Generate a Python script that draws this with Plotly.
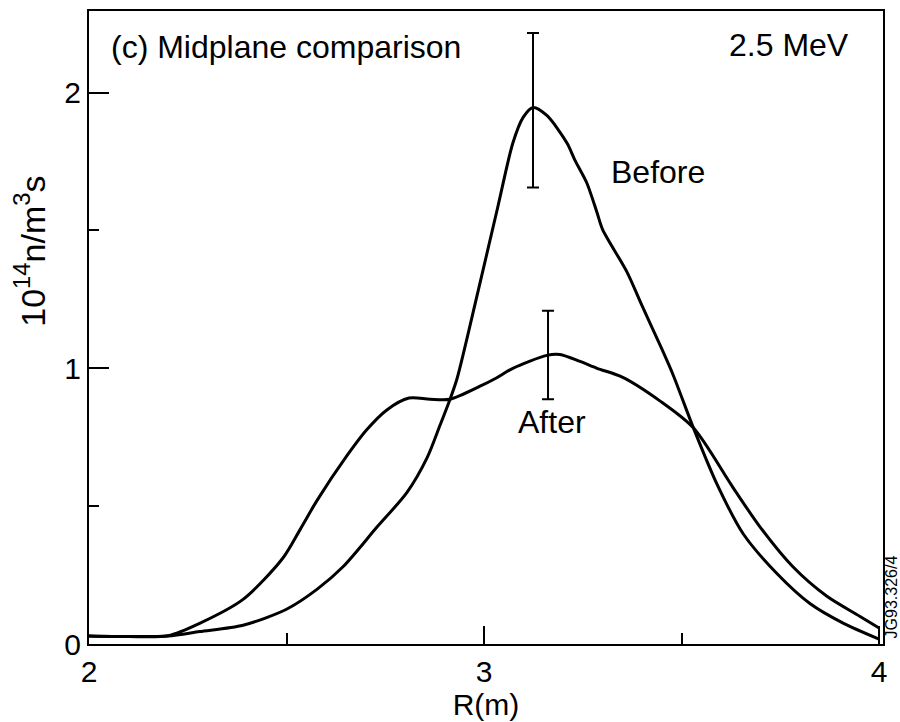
import plotly.graph_objects as go

# Neutron emissivity profiles along the midplane, 2.5 MeV
r_before = [2.00, 2.10, 2.20, 2.28, 2.39, 2.50, 2.577, 2.643, 2.729, 2.805, 2.856, 2.889,
            2.914, 2.932, 2.985, 3.035, 3.073, 3.099, 3.124, 3.159, 3.21, 3.23, 3.26,
            3.286, 3.30, 3.362, 3.40, 3.446, 3.479, 3.53, 3.59, 3.656, 3.742, 3.825,
            3.909, 4.00]
e_before = [0.029, 0.027, 0.029, 0.045, 0.068, 0.126, 0.198, 0.28, 0.424, 0.55, 0.676, 0.795,
            0.888, 0.964, 1.28, 1.586, 1.817, 1.91, 1.946, 1.917, 1.817, 1.755, 1.673,
            1.565, 1.504, 1.349, 1.227, 1.083, 0.975, 0.784, 0.579, 0.40, 0.255, 0.147,
            0.076, 0.018]

r_after = [2.00, 2.10, 2.20, 2.28, 2.39, 2.49, 2.534, 2.577, 2.653, 2.703, 2.754, 2.81,
           2.863, 2.914, 2.99, 3.03, 3.073, 3.159, 3.192, 3.243, 3.286, 3.35, 3.446,
           3.53, 3.63, 3.699, 3.782, 3.868, 3.952, 4.00]
e_after = [0.029, 0.027, 0.030, 0.075, 0.162, 0.31, 0.414, 0.52, 0.683, 0.777, 0.849, 0.892,
           0.888, 0.888, 0.935, 0.964, 1.0, 1.047, 1.05, 1.025, 1.0, 0.968, 0.881,
           0.784, 0.568, 0.424, 0.28, 0.173, 0.10, 0.058]

# Error bars: position, value, upper and lower extent
err_r = [3.124, 3.162]
err_val = [1.946, 1.047]
err_plus = [0.27, 0.162]
err_minus = [0.29, 0.159]

x_ticks = [2, 3, 4]
y_ticks = [0, 1, 2]

FONT = "Liberation Sans, Arial, Helvetica, sans-serif"

fig = go.Figure()
fig.add_trace(go.Scatter(x=r_before, y=e_before, mode="lines",
                         line=dict(color="black", width=3, shape="spline", smoothing=0.8),
                         showlegend=False, hoverinfo="skip"))
fig.add_trace(go.Scatter(x=r_after, y=e_after, mode="lines",
                         line=dict(color="black", width=3, shape="spline", smoothing=0.8),
                         showlegend=False, hoverinfo="skip"))
fig.add_trace(go.Scatter(x=err_r, y=err_val, mode="markers",
                         marker=dict(size=1, color="black"),
                         error_y=dict(type="data", symmetric=False, array=err_plus,
                                      arrayminus=err_minus, color="black",
                                      thickness=2, width=6),
                         showlegend=False, hoverinfo="skip"))

axis_common = dict(showgrid=False, zeroline=False, showline=True, linecolor="black",
                   linewidth=2, mirror=True, ticks="inside", tickcolor="black",
                   tickwidth=2, tickfont=dict(family=FONT, size=30, color="black"))

fig.update_xaxes(range=[2, 4.01], tickvals=x_ticks, ticktext=[str(v) for v in x_ticks],
                 ticklen=18,
                 minor=dict(ticks="inside", ticklen=11, tickwidth=2, tickcolor="black",
                            dtick=0.5, showgrid=False),
                 title=dict(text="R(m)", font=dict(family=FONT, size=30, color="black"),
                            standoff=4),
                 **axis_common)
fig.update_yaxes(range=[0, 2.296], tickvals=y_ticks, ticktext=[str(v) for v in y_ticks],
                 ticklen=20,
                 minor=dict(ticks="inside", ticklen=10, tickwidth=2, tickcolor="black",
                            dtick=0.5, showgrid=False),
                 **axis_common)

def px_x(p):
    return (p - 89) / 794.0

def px_y(p):
    return (648 - p) / 639.0

annots = [
    dict(text="(c) Midplane comparison", x=px_x(109), y=px_y(45), xanchor="left", yanchor="middle", size=32, angle=0),
    dict(text="2.5 MeV", x=px_x(851), y=px_y(43), xanchor="right", yanchor="middle", size=32, angle=0),
    dict(text="Before", x=px_x(609), y=px_y(172), xanchor="left", yanchor="middle", size=32, angle=0),
    dict(text="After", x=px_x(516), y=px_y(424), xanchor="left", yanchor="middle", size=32, angle=0),
    dict(text="10<sup>14</sup>n/m<sup>3</sup>s", x=px_x(30), y=px_y(252), xanchor="center", yanchor="middle", size=34, angle=-90),
    dict(text="JG93.326/4", x=px_x(891), y=px_y(601), xanchor="center", yanchor="middle", size=16, angle=-90),
]
for a in annots:
    fig.add_annotation(text=a["text"], x=a["x"], y=a["y"], xref="paper", yref="paper",
                       xanchor=a["xanchor"], yanchor=a["yanchor"], showarrow=False,
                       textangle=a["angle"],
                       font=dict(family=FONT, size=a["size"], color="black"))

fig.update_layout(width=900, height=722, margin=dict(l=89, r=17, t=9, b=74),
                  paper_bgcolor="white", plot_bgcolor="white")

fig.write_html("out.html")
